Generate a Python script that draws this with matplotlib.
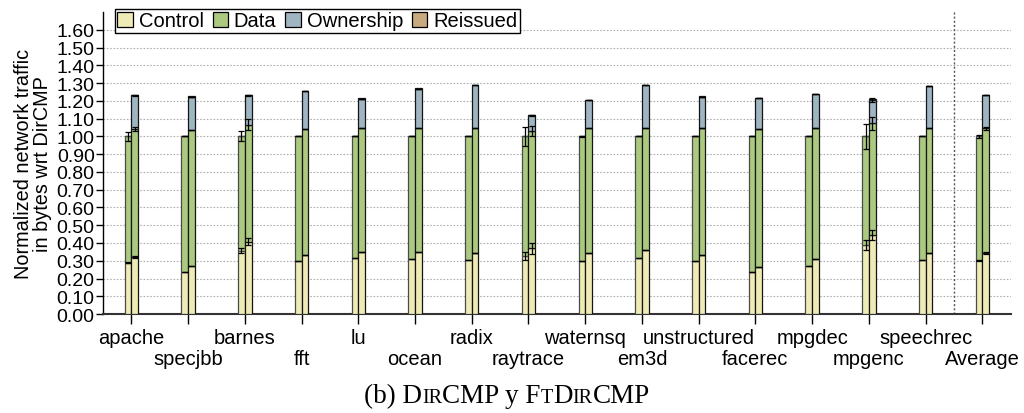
import numpy as np
import matplotlib
matplotlib.use('Agg')
import matplotlib.pyplot as plt

plt.rcParams['font.family'] = ['Liberation Sans', 'DejaVu Sans']

# benchmarks, DirCMP (left bar) and FtDirCMP (right bar) in each group
benchmarks = ['apache', 'specjbb', 'barnes', 'fft', 'lu', 'ocean', 'radix', 'raytrace',
              'waternsq', 'em3d', 'unstructured', 'facerec', 'mpgdec', 'mpgenc',
              'speechrec', 'Average']

dir_control = [0.290, 0.238, 0.356, 0.296, 0.315, 0.309, 0.303, 0.325,
               0.300, 0.318, 0.296, 0.238, 0.273, 0.389, 0.302, 0.302]
dir_data = [0.710, 0.762, 0.644, 0.704, 0.685, 0.691, 0.697, 0.675,
            0.700, 0.682, 0.704, 0.762, 0.727, 0.611, 0.698, 0.698]
dir_ownership = [0.0] * 16
dir_reissued = [0.0] * 16

ft_control = [0.320, 0.268, 0.408, 0.333, 0.352, 0.347, 0.341, 0.369,
              0.343, 0.358, 0.335, 0.266, 0.309, 0.444, 0.343, 0.344]
ft_data = [0.723, 0.769, 0.658, 0.710, 0.695, 0.700, 0.704, 0.661,
           0.706, 0.691, 0.712, 0.773, 0.736, 0.629, 0.702, 0.701]
ft_ownership = [0.189, 0.186, 0.166, 0.212, 0.166, 0.221, 0.242, 0.088,
                0.153, 0.239, 0.176, 0.176, 0.193, 0.133, 0.238, 0.187]
ft_reissued = [0.002] * 16

# error bars at the top of each segment
dir_control_err = [0.004, 0.0, 0.015, 0.0, 0.0, 0.0, 0.0, 0.022,
                   0.0, 0.0, 0.0, 0.0, 0.0, 0.028, 0.0, 0.004]
dir_data_err = [0.026, 0.0, 0.028, 0.0, 0.0, 0.0, 0.0, 0.055,
                0.004, 0.0, 0.0, 0.0, 0.0, 0.070, 0.0, 0.008]
ft_control_err = [0.004, 0.0, 0.020, 0.0, 0.0, 0.0, 0.0, 0.030,
                  0.0, 0.0, 0.0, 0.0, 0.0, 0.030, 0.0, 0.004]
ft_data_err = [0.012, 0.0, 0.030, 0.0, 0.0, 0.0, 0.0, 0.030,
               0.0, 0.0, 0.0, 0.0, 0.0, 0.038, 0.0, 0.008]
ft_ownership_err = [0.003, 0.0, 0.003, 0.0, 0.0, 0.0, 0.0, 0.004,
                    0.0, 0.0, 0.0, 0.0, 0.0, 0.010, 0.0, 0.0]

series_names = ['Control', 'Data', 'Ownership', 'Reissued']
colors = ['#eeebb6', '#abc97f', '#9fb5c1', '#c9aa7e']

fig = plt.figure(figsize=(10.24, 4.14), dpi=100)
ax = fig.add_axes([0.1006, 0.239, 0.8864, 0.7296])

x = np.arange(len(benchmarks))
w = 0.118

def stack(xpos, parts, errs, edge):
    bottom = np.zeros(len(xpos))
    for vals, col in zip(parts, colors):
        ax.bar(xpos, vals, w, bottom=bottom, color=col, edgecolor=edge,
               linewidth=0.9, zorder=3)
        bottom = bottom + np.array(vals)
    tops = np.cumsum(np.array(parts[:len(errs)]), axis=0)
    for top, err in zip(tops, errs):
        ax.errorbar(xpos, top, yerr=err, fmt='none', ecolor='black',
                    elinewidth=0.9, capsize=2.5, capthick=0.9, zorder=4)

stack(x - w / 2, [dir_control, dir_data, dir_ownership, dir_reissued],
      [dir_control_err, dir_data_err], '#4a4a4a')
stack(x + w / 2, [ft_control, ft_data, ft_ownership, ft_reissued],
      [ft_control_err, ft_data_err, ft_ownership_err], '#151515')

ax.set_xlim(-0.5, 15.5)
ax.set_ylim(0, 1.70)
ax.set_yticks(np.arange(0, 1.61, 0.1))
ax.set_yticklabels(['%.2f' % v for v in np.arange(0, 1.61, 0.1)], fontsize=14)
ax.yaxis.grid(True, linestyle=(0, (1.5, 1.5)), color='#b0b0b0', linewidth=0.8)
ax.set_axisbelow(True)
ax.axvline(14.5, color='#555555', linestyle=(0, (1.5, 1.5)), linewidth=1, zorder=2)

ax.set_xticks(x)
ax.set_xticklabels(benchmarks, fontsize=14.5)
ax.tick_params(axis='x', length=7, width=1, pad=3)
# odd benchmarks go on a second row of labels
for i, tick in enumerate(ax.xaxis.get_major_ticks()):
    if i % 2 == 1:
        tick.set_pad(18.5)
ax.tick_params(axis='y', length=5, width=1, pad=1)
for s in ['top', 'right']:
    ax.spines[s].set_visible(False)
ax.spines['bottom'].set_color('#333333')
ax.spines['bottom'].set_linewidth(1.5)
ax.spines['left'].set_linewidth(1.0)

ax.set_ylabel('Normalized network traffic\nin bytes wrt DirCMP', fontsize=14.3,
              linespacing=1.0, labelpad=3)

handles = [plt.Rectangle((0, 0), 1, 1, facecolor=c, edgecolor='black', linewidth=0.9)
           for c in colors]
leg = fig.legend(handles, series_names, loc='upper left', ncol=4,
                 bbox_to_anchor=(115 / 1024, 1 - 10 / 414), fontsize=14.5,
                 frameon=True, fancybox=False, borderpad=0.12, borderaxespad=0,
                 handlelength=0.75, handleheight=0.75, handletextpad=0.3,
                 columnspacing=0.45)
leg.get_frame().set_edgecolor('black')
leg.get_frame().set_linewidth(1.0)
leg.get_frame().set_alpha(1)

# caption with small caps pieces
pieces = [('(b) D', 19.5), ('IR', 14.5), ('CMP y F', 19.5), ('T', 14.5), ('D', 19.5),
          ('IR', 14.5), ('CMP', 19.5)]
renderer = fig.canvas.get_renderer()
texts = []
for s, fs in pieces:
    t = fig.text(0, 0, s, fontsize=fs, family=['Liberation Serif', 'DejaVu Serif'],
                 va='baseline', ha='left')
    texts.append(t)
widths = [t.get_window_extent(renderer).width for t in texts]
xpos = 507 - sum(widths) / 2
for t, wd in zip(texts, widths):
    t.set_position((xpos / 1024, 1 - 403 / 414))
    xpos += wd

fig.savefig('out.png', dpi=100)
